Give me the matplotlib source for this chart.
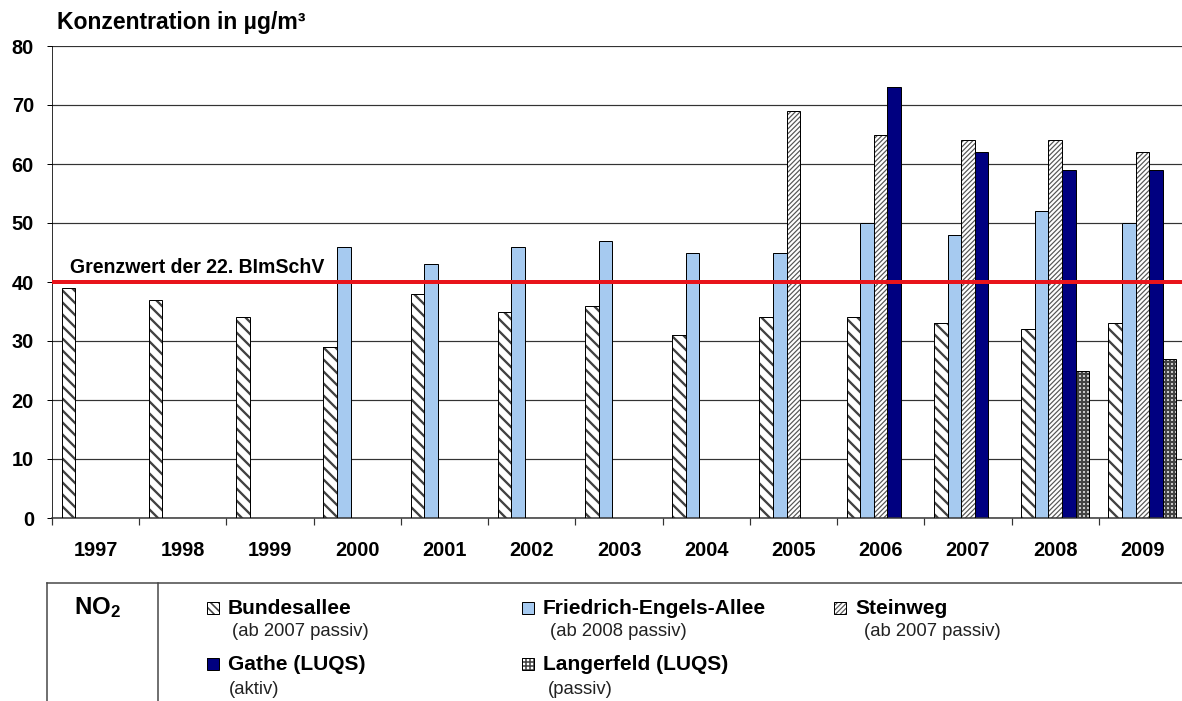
import matplotlib.pyplot as plt
import numpy as np
from matplotlib.patches import Rectangle
from matplotlib.lines import Line2D

plt.rcParams['font.family'] = ['Liberation Sans', 'DejaVu Sans']
plt.rcParams['mathtext.fontset'] = 'custom'
plt.rcParams['mathtext.bf'] = 'Liberation Sans:bold'
plt.rcParams['mathtext.rm'] = 'Liberation Sans'

nan = np.nan
years = ['1997', '1998', '1999', '2000', '2001', '2002', '2003',
         '2004', '2005', '2006', '2007', '2008', '2009']
bundesallee = [39, 37, 34, 29, 38, 35, 36, 31, 34, 34, 33, 32, 33]
friedrich = [nan, nan, nan, 46, 43, 46, 47, 45, 45, 50, 48, 52, 50]
steinweg = [nan, nan, nan, nan, nan, nan, nan, nan, 69, 65, 64, 64, 62]
gathe = [nan, nan, nan, nan, nan, nan, nan, nan, nan, 73, 62, 59, 59]
langerfeld = [nan, nan, nan, nan, nan, nan, nan, nan, nan, nan, nan, 25, 27]
grenzwert = 40
grenz_label = 'Grenzwert der 22. BImSchV'

names = ['Bundesallee', 'Friedrich-Engels-Allee', 'Steinweg', 'Gathe (LUQS)', 'Langerfeld (LUQS)']
subs = ['(ab 2007 passiv)', '(ab 2008 passiv)', '(ab 2007 passiv)', '(aktiv)', '(passiv)']
values = [bundesallee, friedrich, steinweg, gathe, langerfeld]
# face, hatch, hatch colour, hatch linewidth, hatch for the small legend box
styles = [
    ('white', '\\\\', '#404040', 2.3, '\\\\\\'),
    ('#a6caf0', None, None, 0, None),
    ('white', '/////', '#555555', 1.2, '/////'),
    ('#000080', None, None, 0, None),
    ('white', '+++', '#444444', 2.3, '+++'),
]

W, H = 1182, 701
fig = plt.figure(figsize=(W / 72, H / 72), dpi=72)

def fx(px):
    return px / W

def fy(py):
    return 1 - py / H

ax = fig.add_axes([fx(52), fy(518), (1186 - 52) / W, (518 - 46) / H])

x = np.arange(len(years))
w = 0.156

for i, (vals, st) in enumerate(zip(values, styles)):
    face, hatch, hc, hlw, _ = st
    plt.rcParams['hatch.linewidth'] = hlw if hatch else 1.0
    bars = ax.bar(x + (i - 2) * w, vals, w, color=face,
                  edgecolor=hc if hatch else face, hatch=hatch,
                  linewidth=0, zorder=2)
    if hatch:
        for b in bars:
            if hasattr(b, 'set_hatch_linewidth'):
                b.set_hatch_linewidth(hlw)
    ax.bar(x + (i - 2) * w, vals, w, facecolor='none', edgecolor='black',
           linewidth=1, zorder=3)

ax.axhline(grenzwert, color='#e8141b', lw=4, zorder=4)
ax.text(-0.29, grenzwert + 2.5, grenz_label, fontsize=19.5, fontweight='bold',
        va='center', ha='left', zorder=5)

ax.set_xlim(-0.5, len(years) - 0.5)
ax.set_ylim(0, 80)
ax.set_yticks(np.arange(0, 81, 10))
ax.yaxis.grid(True, color='#333333', lw=1.2)
ax.set_axisbelow(True)
ax.tick_params(axis='y', length=5, width=1, pad=13, labelsize=20)
for lab in ax.get_yticklabels():
    lab.set_fontweight('bold')

ax.set_xticks(x)
ax.set_xticklabels(years, fontsize=20, fontweight='bold')
ax.set_xticks(np.arange(-0.5, len(years)), minor=True)
ax.tick_params(axis='x', which='major', length=0, pad=23)
ax.tick_params(axis='x', which='minor', length=7, width=1.2, color='#333333')

for s in ['top', 'right']:
    ax.spines[s].set_visible(False)
ax.spines['left'].set_color('black')
ax.spines['bottom'].set_color('#333333')
ax.spines['bottom'].set_linewidth(1.5)

fig.text(fx(57), fy(22), 'Konzentration in µg/m³', fontsize=23, fontweight='bold',
         ha='left', va='center')

# legend box below the chart
lc = '#444444'
fig.add_artist(Line2D([fx(47), fx(W)], [fy(583), fy(583)], color=lc, lw=1.5))
fig.add_artist(Line2D([fx(47), fx(47)], [fy(583), 0], color=lc, lw=1.5))
fig.add_artist(Line2D([fx(158), fx(158)], [fy(583), 0], color=lc, lw=1.5))
fig.text(fx(97), fy(608), r'$\mathbf{NO_2}$', fontsize=24, ha='center', va='center')

name_pos = [(207, 608), (522, 608), (834, 608), (207, 664), (522, 664)]
sub_pos = [(232, 631), (550, 631), (864, 631), (229, 690), (548, 690)]
sq = 12
for i, (nm, sb) in enumerate(zip(names, subs)):
    face, hatch, hc, hlw, lhatch = styles[i]
    px, py = name_pos[i]
    plt.rcParams['hatch.linewidth'] = min(hlw, 1.6) if hatch else 1.0
    r = Rectangle((fx(px), fy(py + sq / 2)), sq / W, sq / H, transform=fig.transFigure,
                  facecolor=face, edgecolor=hc if hatch else face, hatch=lhatch, lw=0)
    if hatch and hasattr(r, 'set_hatch_linewidth'):
        r.set_hatch_linewidth(min(hlw, 1.6))
    fig.add_artist(r)
    fig.add_artist(Rectangle((fx(px), fy(py + sq / 2)), sq / W, sq / H,
                             transform=fig.transFigure, facecolor='none',
                             edgecolor='black', lw=1))
    fig.text(fx(px + 21), fy(py), nm, fontsize=21, fontweight='bold', ha='left', va='center')
    sx, sy = sub_pos[i]
    fig.text(fx(sx), fy(sy), sb, fontsize=18.5, ha='left', va='center', color='#222222')

fig.savefig('out.png', dpi=72)
